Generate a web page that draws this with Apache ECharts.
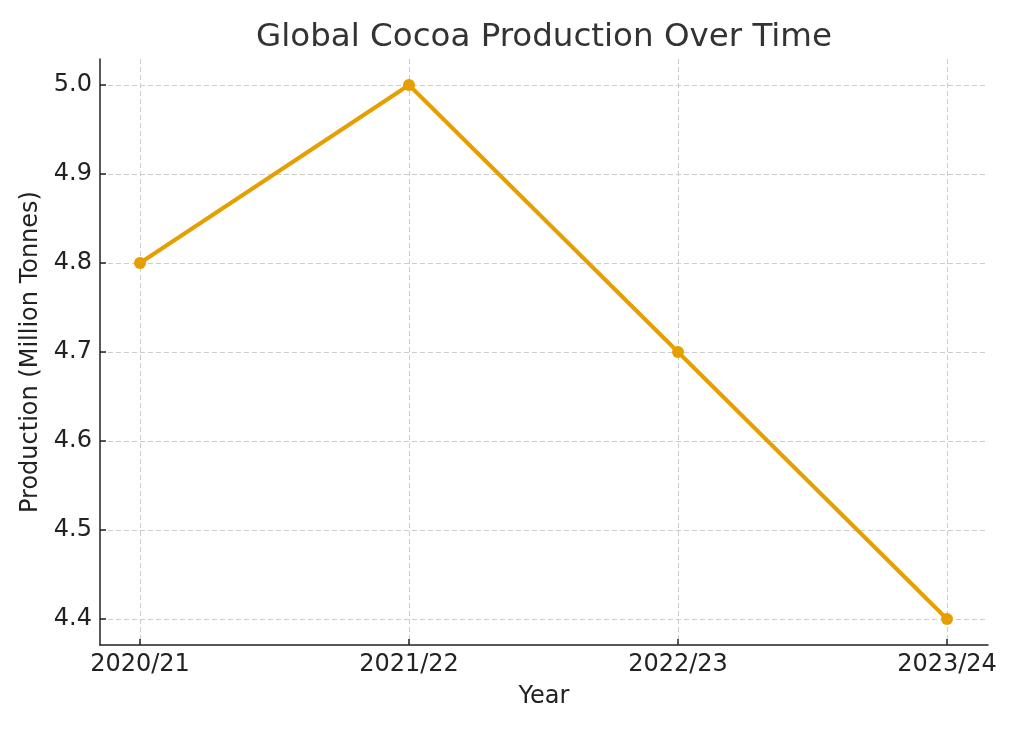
<!DOCTYPE html>
<html>
<head>
<meta charset="utf-8">
<script src="https://cdn.jsdelivr.net/npm/echarts@6/dist/echarts.min.js"></script>
<style>
  html, body { margin: 0; padding: 0; background: #fff; }
  #chart { width: 1024px; height: 731px; }
</style>
</head>
<body>
<div id="chart"></div>
<script>
// data
const years = ['2020/21', '2021/22', '2022/23', '2023/24']
const production = [4.8, 5.0, 4.7, 4.4]
const yTicks = [4.4, 4.5, 4.6, 4.7, 4.8, 4.9, 5.0]

const chart = echarts.init(document.getElementById('chart'))
const font = 'DejaVu Sans'

const option = {
  backgroundColor: '#fff',
  animation: false,
  title: {
    text: 'Global Cocoa Production Over Time',
    left: 539,
    top: 16,
    textAlign: 'center',
    textStyle: { fontFamily: font, fontSize: 32.5, fontWeight: 'normal', color: '#333' }
  },
  grid: { left: 100, right: 36, top: 59, bottom: 86 },
  xAxis: {
    type: 'value',
    min: -40 / 269,
    max: 3 + 41 / 269,
    name: 'Year',
    nameLocation: 'middle',
    nameGap: 40,
    nameTextStyle: { fontFamily: font, fontSize: 24, color: '#222' },
    axisLine: { show: true, onZero: false, lineStyle: { color: '#222', width: 1.5 } },
    axisTick: { show: true, inside: true, length: 6, lineStyle: { color: '#222', width: 1.5 }, customValues: [0, 1, 2, 3] },
    axisLabel: {
      customValues: [0, 1, 2, 3],
      fontFamily: font, fontSize: 24, color: '#222', margin: 8,
      formatter: v => years[Math.round(v)]
    },
    splitLine: { show: true, lineStyle: { color: '#ccc', type: [5, 3], width: 1 } }
  },
  yAxis: {
    type: 'value',
    min: 4.4 - 26 / 890,
    max: 5.0 + 26 / 890,
    name: 'Production (Million Tonnes)',
    nameLocation: 'middle',
    nameGap: 53,
    nameTextStyle: { fontFamily: font, fontSize: 24, color: '#222' },
    axisLine: { show: true, onZero: false, lineStyle: { color: '#222', width: 1.5 } },
    axisTick: { show: true, inside: true, length: 6, lineStyle: { color: '#222', width: 1.5 }, customValues: yTicks },
    axisLabel: {
      customValues: yTicks,
      fontFamily: font, fontSize: 24, color: '#222', margin: 8,
      formatter: v => v.toFixed(1)
    },
    splitLine: { show: true, lineStyle: { color: '#ccc', type: [5, 3], width: 1 } }
  },
  series: [{
    type: 'line',
    data: production.map((v, i) => [i, v]),
    symbol: 'circle',
    symbolSize: 12,
    lineStyle: { color: '#E69F00', width: 4 },
    itemStyle: { color: '#E69F00' }
  }]
}

chart.setOption(option)
</script>
</body>
</html>
